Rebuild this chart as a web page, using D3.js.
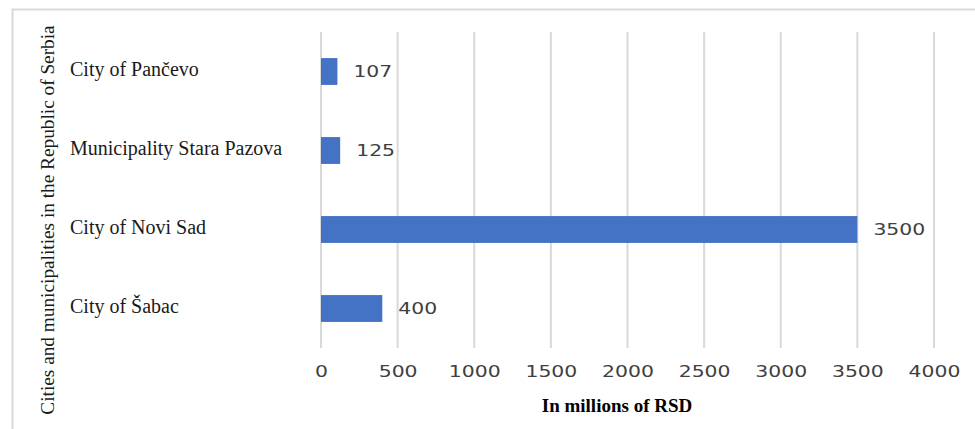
<!DOCTYPE html>
<html><head><meta charset="utf-8">
<script src="https://cdn.jsdelivr.net/npm/d3@7"></script>
<style>body{margin:0;background:#fff}</style>
</head><body>
<script>
const categories = ["City of Pančevo", "Municipality Stara Pazova", "City of Novi Sad", "City of Šabac"];
const values = [107, 125, 3500, 400];
const tickValues = [0, 500, 1000, 1500, 2000, 2500, 3000, 3500, 4000];
const xTitle = "In millions of RSD";
const yTitle = "Cities and municipalities in the Republic of Serbia";

const W = 975, H = 429;
const serif = "'Liberation Serif', 'Times New Roman', Times, serif";
const sans = "'DejaVu Sans', Verdana, sans-serif";
const svg = d3.select("body").append("svg").attr("width", W).attr("height", H);

// frame
svg.append("path").attr("d", `M12.5,${H} V9.5 H${W}`).attr("fill","none").attr("stroke","#d9d9d9").attr("stroke-width",2);

const x = d3.scaleLinear().domain([0, 4000]).range([321, 934]);
const y = d3.scaleBand().domain(categories).range([32, 348]).paddingInner(0.66).paddingOuter(0.33);

// gridlines
svg.append("g").selectAll("line").data(tickValues).join("line")
  .attr("x1", d => x(d)).attr("x2", d => x(d)).attr("y1", 32).attr("y2", 348)
  .attr("stroke", "#d9d9d9").attr("stroke-width", 2);

// bars
svg.append("g").selectAll("rect").data(values).join("rect")
  .attr("x", x(0)).attr("y", (d,i) => y(categories[i]))
  .attr("width", d => x(d) - x(0)).attr("height", y.bandwidth())
  .attr("fill", "#4472C4");

const sx = 1.36;
// value labels
svg.append("g").selectAll("text").data(values).join("text")
  .attr("transform", (d,i) => `translate(${x(d) + 16},${y(categories[i]) + y.bandwidth()/2}) scale(${sx},1)`)
  .attr("dy", "0.36em").style("font-family", sans).attr("font-size", 15)
  .attr("fill", "#404040").text(d => d);

// x axis tick labels
const xAxis = d3.axisBottom(x).tickValues(tickValues).tickFormat(d3.format("d")).tickSize(0).tickPadding(0);
const gx = svg.append("g").attr("transform", "translate(0,372)").call(xAxis);
gx.select(".domain").remove();
gx.selectAll("text").attr("dy", "0.36em").attr("y", 0).attr("transform", `scale(${sx},1)`)
  .style("font-family", sans).attr("font-size", 15).attr("fill", "#404040");

// category labels
const yAxis = d3.axisLeft(y).tickSize(0);
const gy = svg.append("g").attr("transform", "translate(70,0)").call(yAxis);
gy.select(".domain").remove();
gy.selectAll("text").attr("text-anchor", "start").attr("x", 0).attr("dy", "0.2em")
  .style("font-family", serif).attr("font-size", 20).attr("fill", "#1a1a1a");

// x title
svg.append("text").attr("x", 617).attr("y", 412).attr("text-anchor", "middle")
  .style("font-family", serif).attr("font-weight", "bold")
  .attr("font-size", 19).attr("fill", "#000").text(xTitle);

// y title
svg.append("text").attr("transform", "translate(54,220) rotate(-90)").attr("text-anchor", "middle")
  .style("font-family", serif)
  .attr("font-size", 19.3).attr("fill", "#1a1a1a").text(yTitle);
</script>
</body></html>
